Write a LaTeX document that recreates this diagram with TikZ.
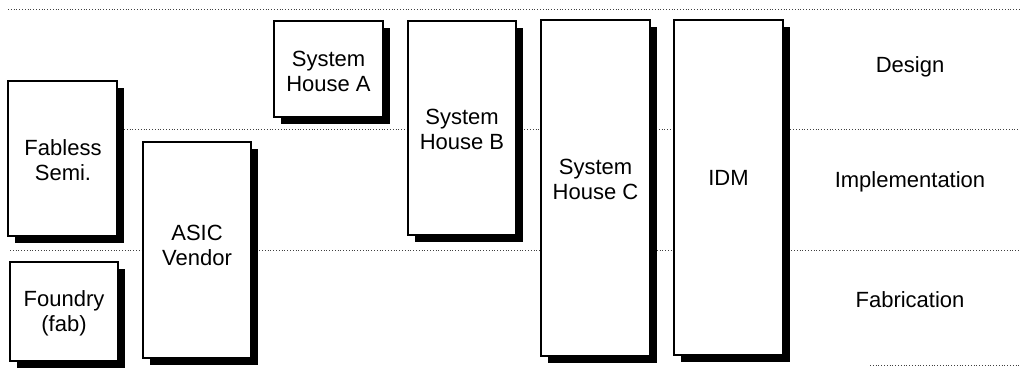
\documentclass[tikz,border=0pt]{standalone}
\usepackage{fontspec}
\setmainfont{Liberation Sans}
\usetikzlibrary{shadows}
\begin{document}
\begin{tikzpicture}[x=1pt,y=-1pt,
  blk/.style={draw=black, line width=1.1pt, fill=white, inner sep=0pt,
    drop shadow={shadow xshift=6.5pt, shadow yshift=-6.5pt, fill=black, opacity=1}},
  lbl/.style={align=center, font=\fontsize{22}{25}\selectfont, inner sep=0pt},
  guide/.style={draw=black!75, line width=0.6pt, dash pattern=on 1pt off 1.8pt}]
\useasboundingbox (0,0) rectangle (1020,367);
% guide lines
\coordinate (g1a) at (8,9);    \coordinate (g1b) at (1020,9);
\coordinate (g2a) at (124,129); \coordinate (g2b) at (1020,129);
\coordinate (g3a) at (10,250); \coordinate (g3b) at (1020,250);
\coordinate (g4a) at (870,365); \coordinate (g4b) at (1020,365);
\draw[guide] (g1a) -- (g1b);
\draw[guide] (g2a) -- (g2b);
\draw[guide] (g3a) -- (g3b);
\draw[guide] (g4a) -- (g4b);
% boxes
\node[blk, minimum width=109, minimum height=155] (fab) at (62.5,158.5) {};
\node[blk, minimum width=108, minimum height=99] (fnd) at (64,311.5) {};
\node[blk, minimum width=108, minimum height=216] (asic) at (197,250) {};
\node[blk, minimum width=109, minimum height=96] (sha) at (328.5,69) {};
\node[blk, minimum width=108, minimum height=214] (shb) at (462,128) {};
\node[blk, minimum width=109, minimum height=336] (shc) at (595.5,188) {};
\node[blk, minimum width=109, minimum height=335] (idm) at (728.5,187.5) {};
% box labels
\node[lbl] (fabT) at (63,160) {Fabless\\Semi.};
\node[lbl] (fndT) at (64,313) {Foundry\\(fab)};
\node[lbl] (asicT) at (197,245) {ASIC\\Vendor};
\node[lbl] (shaT) at (328.5,71) {System\\House A};
\node[lbl] (shbT) at (462,129) {System\\House B};
\node[lbl] (shcT) at (595.5,179) {System\\House C};
\node[lbl] (idmT) at (728.5,178) {IDM};
% row labels
\node[lbl] (des) at (910,67) {Design};
\node[lbl] (imp) at (910,182) {Implementation};
\node[lbl] (fabr) at (910,300) {Fabrication};
\end{tikzpicture}
\end{document}
